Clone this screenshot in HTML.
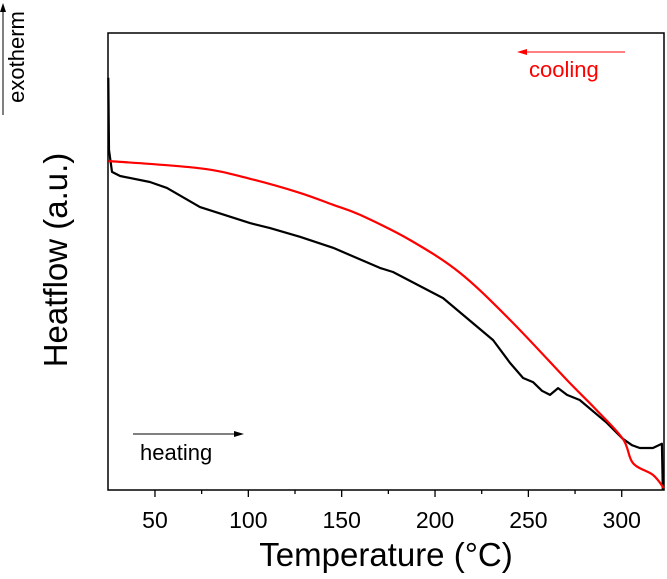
<!DOCTYPE html>
<html><head><meta charset="utf-8"><style>
body{margin:0;background:#fff}
svg{display:block;font-family:"Liberation Sans",Arial,sans-serif}
</style></head><body>
<svg id="chart" width="667" height="579" viewBox="0 0 667 579">
<rect x="108" y="33" width="556" height="457" fill="none" stroke="#000" stroke-width="1.5"/>
<g id="ticks"></g>
<g id="series"></g>
<text x="386" y="566" font-size="33" text-anchor="middle">Temperature (°C)</text>
<text transform="translate(67,260) rotate(-90)" font-size="33" text-anchor="middle">Heatflow (a.u.)</text>
<text transform="translate(24,57) rotate(-90)" font-size="22" text-anchor="middle">exotherm</text>
<line x1="3" y1="115" x2="3" y2="10" stroke="#000" stroke-width="1"/>
<polygon points="3,3 0,12 6,12" fill="#000"/>
<line x1="625" y1="52" x2="525" y2="52" stroke="#f00" stroke-width="1"/>
<polygon points="517,52 527,49 527,55" fill="#f00"/>
<text x="529" y="77" font-size="22" fill="#f00">cooling</text>
<line x1="133" y1="434" x2="236" y2="434" stroke="#000" stroke-width="1"/>
<polygon points="244,434 234,431 234,437" fill="#000"/>
<text x="140" y="460" font-size="22">heating</text>
</svg>
<script>
const heatT=[25,25.4,27.0,31.3,47.3,56.4,74.1,100.9,111.6,127.7,145.4,170.5,177.5,204.3,231.1,240.2,247.2,252.5,257.3,261.6,265.9,270.7,277.5,292.0,300.6,305.5,309.7,316.7,321.5,322];
const heatY=[90.2,74.4,69.6,68.7,67.4,66.1,61.9,58.4,57.3,55.4,53.0,48.6,47.7,42.0,32.8,27.8,24.5,23.6,21.7,20.8,22.3,20.8,19.7,14.7,11.2,9.8,9.2,9.2,10.1,0];
const coolT=[25,74.1,100.9,127.7,145.4,159.9,186.6,213.4,240.2,270.6,286.0,300.6,306.0,316.7,322.6];
const coolY=[72.0,70.4,68.1,65.0,62.4,60.2,54.7,47.5,37.2,24.1,17.7,11.2,5.9,3.3,0.4];
const xTicks=[50,100,150,200,250,300];
const xMinor=[75,125,175,225,275,325];
const NS='http://www.w3.org/2000/svg';
const X0=108.3,XS=1.867,T0=25;
function xs(t){return X0+(t-T0)*XS;}
function ys(v){return 490-v*4.57;}
const tg=document.getElementById('ticks');
xTicks.forEach(t=>{
 const l=document.createElementNS(NS,'line');
 l.setAttribute('x1',xs(t));l.setAttribute('x2',xs(t));l.setAttribute('y1',490);l.setAttribute('y2',497);
 l.setAttribute('stroke','#000');l.setAttribute('stroke-width','1.3');
 
 
 tg.appendChild(l);
 const tx=document.createElementNS(NS,'text');
 tx.setAttribute('x',xs(t));tx.setAttribute('y',528);tx.setAttribute('font-size','23');tx.setAttribute('text-anchor','middle');
 tx.textContent=t;
 
 
 tg.appendChild(tx);
});
xMinor.forEach(t=>{
 if(xs(t)>665)return;
 const l=document.createElementNS(NS,'line');
 l.setAttribute('x1',xs(t));l.setAttribute('x2',xs(t));l.setAttribute('y1',490);l.setAttribute('y2',494);
 l.setAttribute('stroke','#000');l.setAttribute('stroke-width','1.3');
 
 
 tg.appendChild(l);
});
const sg=document.getElementById('series');
function smoothPath(pts){
 let d='M'+pts[0][0].toFixed(1)+','+pts[0][1].toFixed(1);
 for(let i=0;i<pts.length-1;i++){
  const p0=pts[i-1]||pts[i],p1=pts[i],p2=pts[i+1],p3=pts[i+2]||p2;
  const c1=[p1[0]+(p2[0]-p0[0])/6,p1[1]+(p2[1]-p0[1])/6];
  const c2=[p2[0]-(p3[0]-p1[0])/6,p2[1]-(p3[1]-p1[1])/6];
  d+=' C'+c1.map(v=>v.toFixed(1)).join(',')+' '+c2.map(v=>v.toFixed(1)).join(',')+' '+p2[0].toFixed(1)+','+p2[1].toFixed(1);
 }
 return d;
}
function draw(T,Y,color,name,smooth){
 const pts=T.map((t,i)=>[xs(t),ys(Y[i])]);
 const p=document.createElementNS(NS,'path');
 p.setAttribute('d',smooth?smoothPath(pts):'M'+pts.map(q=>q[0].toFixed(1)+','+q[1].toFixed(1)).join(' L'));
 p.setAttribute('fill','none');p.setAttribute('stroke',color);p.setAttribute('stroke-width','2.2');p.setAttribute('stroke-linejoin','round');
 
 
 sg.appendChild(p);
}
draw(heatT,heatY,'#000','heating-curve',false);
draw(coolT,coolY,'#f00','cooling-curve',true);
</script>
</body></html>
